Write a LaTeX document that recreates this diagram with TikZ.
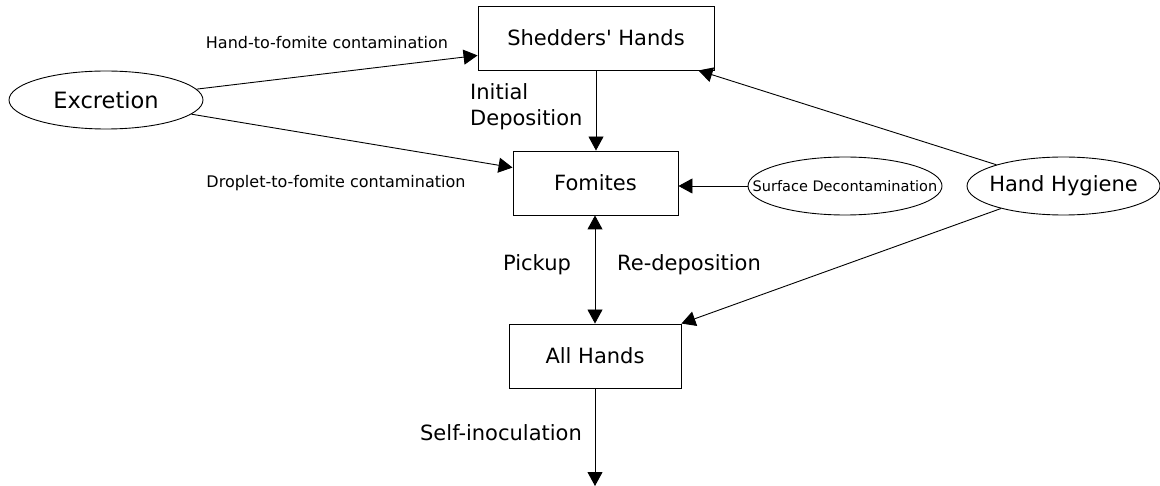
\documentclass[tikz,border=0pt]{standalone}
\usepackage{fontspec}
\setmainfont{DejaVu Sans}[Ligatures=TeXOff]
\usetikzlibrary{arrows.meta,shapes.geometric}
\begin{document}
\begin{tikzpicture}[x=1pt,y=-1pt,
  box/.style={draw,line width=0.9pt,inner sep=0pt,font=\fontsize{21}{25}\selectfont},
  oval/.style={draw,ellipse,line width=0.9pt,inner sep=0pt,minimum height=58pt},
  big/.style={font=\fontsize{21}{26}\selectfont,inner sep=0pt},
  small/.style={font=\fontsize{16}{19}\selectfont,inner sep=0pt},
  arr/.style={line width=0.9pt,-{Triangle[length=14pt,width=15pt]}},
  darr/.style={line width=0.9pt,{Triangle[length=14pt,width=15pt]}-{Triangle[length=14pt,width=15pt]}}]
\useasboundingbox (0,0) rectangle (1160,486);
\node[box,minimum width=236pt,minimum height=64pt] (sh) at (596,38) {Shedders' Hands};
\node[box,minimum width=165pt,minimum height=64pt] (fo) at (595.5,183) {Fomites};
\node[box,minimum width=172pt,minimum height=64pt] (ah) at (595,356) {All Hands};
\node[oval,minimum width=194pt,font=\fontsize{22.5}{26}\selectfont] (exc) at (106,100) {\makebox[0pt]{Excretion}};
\node[oval,minimum width=194pt,font=\fontsize{14.5}{17}\selectfont] (sd) at (845,186) {\makebox[0pt]{Surface Decontamination}};
\node[oval,minimum width=193pt,font=\fontsize{21}{25}\selectfont] (hh) at (1063.5,186) {\makebox[0pt]{Hand Hygiene}};
\coordinate (out) at (595,486);
\node[small] (l1) at (327,43) {Hand-to-fomite contamination};
\node[small] (l2) at (336,183) {Droplet-to-fomite contamination};
\node[big,align=left,anchor=west] (l3) at (470,107) {Initial\\Deposition};
\node[big] (l4) at (537,265) {Pickup};
\node[big] (l5) at (689,265) {Re-deposition};
\node[big] (l6) at (501,433) {Self-inoculation};
\draw[arr] (exc) -- ([yshift=15pt]sh.south west);
\draw[arr] (exc) -- ([yshift=-17pt]fo.north west);
\draw[arr] (sh) -- (sh.south |- fo.north);
\draw[arr] (sd.west) -- (sd.west -| fo.east);
\draw[arr] (hh) -- ([xshift=-16pt]sh.south east);
\draw[arr] (hh) -- (ah.north east);
\draw[darr] (fo.south -| ah.north) -- (ah.north);
\draw[arr] (ah.south) -- (out);
\end{tikzpicture}
\end{document}
